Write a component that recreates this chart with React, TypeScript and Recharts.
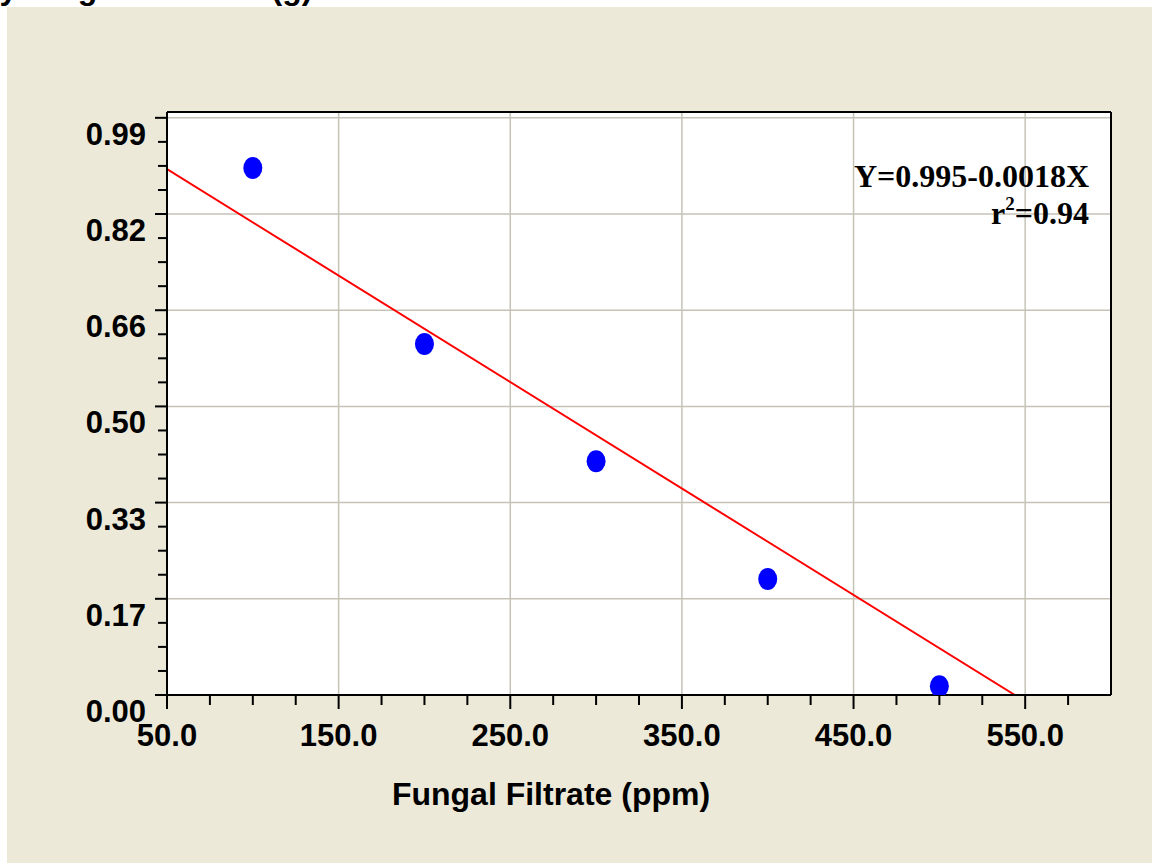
import React from 'react'
import {
  ComposedChart, XAxis, YAxis, CartesianGrid, Scatter, Line, ReferenceLine, Label,
} from 'recharts'

// measured points (fungal filtrate ppm vs dry weight g)
const filtrate = [100, 200, 300, 400, 500]
const dryWeight = [0.904, 0.602, 0.401, 0.199, 0.015]

// fitted line endpoints as drawn
const fitX = [50, 544]
const fitY = [0.902, 0]

const xMajorTicks = [50, 150, 250, 350, 450, 550]
const xMajorLabels = ['50.0', '150.0', '250.0', '350.0', '450.0', '550.0']
const xMinorTicks = [75, 100, 125, 175, 200, 225, 275, 300, 325, 375, 400, 425, 475, 500, 525, 575]

const yMajorTicks = [0, 0.165, 0.33, 0.495, 0.66, 0.825, 0.99]
const yMajorLabels = ['0.00', '0.17', '0.33', '0.50', '0.66', '0.82', '0.99']
const yMinorTicks = [
  0.04125, 0.0825, 0.12375, 0.20625, 0.2475, 0.28875, 0.37125, 0.4125, 0.45375,
  0.53625, 0.5775, 0.61875, 0.70125, 0.7425, 0.78375, 0.86625, 0.9075, 0.94875,
]

const points = filtrate.map((x, i) => ({ x, y: dryWeight[i] }))
const fitLine = fitX.map((x, i) => ({ x, y: fitY[i] }))

const SANS = '"Liberation Sans", Arial, sans-serif'
const SERIF = '"Liberation Serif", "Times New Roman", serif'
const BEIGE = '#ECE9D8'
const GRID = '#C6C3B6'

// eslint-disable-next-line @typescript-eslint/no-explicit-any
function XTick({ x, y, payload }: any) {
  const idx = xMajorTicks.indexOf(payload.value)
  const major = idx >= 0
  return (
    <g>
      <line x1={x} x2={x} y1={y} y2={y + (major ? 14 : 10)} stroke="#000" strokeWidth={2} />
      {major && (
        <text x={x} y={y + 51} textAnchor="middle" fontFamily={SANS} fontWeight="bold" fontSize={31} fill="#000">
          {xMajorLabels[idx]}
        </text>
      )}
    </g>
  )
}

// eslint-disable-next-line @typescript-eslint/no-explicit-any
function YTick({ x, y, payload }: any) {
  const idx = yMajorTicks.indexOf(payload.value)
  const major = idx >= 0
  return (
    <g>
      <line x1={x - (major ? 12 : 9)} x2={x} y1={y} y2={y} stroke="#000" strokeWidth={2} />
      {major && (
        <text x={x - 21} y={y + 27} textAnchor="end" fontFamily={SANS} fontWeight="bold" fontSize={31} fill="#000">
          {yMajorLabels[idx]}
        </text>
      )}
    </g>
  )
}

// eslint-disable-next-line @typescript-eslint/no-explicit-any
function Dot({ cx, cy }: any) {
  return <ellipse cx={cx} cy={cy} rx={9.5} ry={11} fill="#0000FF" />
}

export default function App() {
  return (
    <div style={{ position: 'absolute', left: 0, top: 0, width: 1152, height: 863, background: '#fff', overflow: 'hidden' }}>
      <div style={{ position: 'absolute', left: 7, top: 7, width: 1145, height: 856, background: BEIGE }} />
      <div style={{ position: 'absolute', left: 0, top: 0 }}>
        <ComposedChart width={1152} height={863} margin={{ top: 112, right: 41, bottom: 38, left: 107 }}>
          <CartesianGrid
            fill="#fff"
            stroke={GRID}
            strokeWidth={1.5}
            horizontalValues={yMajorTicks}
            verticalValues={xMajorTicks}
          />
          <XAxis
            type="number"
            dataKey="x"
            domain={[50, 600]}
            ticks={[...xMajorTicks, ...xMinorTicks].sort((a, b) => a - b)}
            interval={0}
            height={130}
            tickSize={0}
            tickMargin={0}
            tickLine={false}
            axisLine={{ stroke: '#000', strokeWidth: 2 }}
            tick={(p) => <XTick {...p} />}
            allowDataOverflow
          >
            <Label
              content={({ viewBox }: any) => (
                <text
                  x={viewBox.x + viewBox.width / 2 - 88}
                  y={viewBox.y + 110}
                  textAnchor="middle"
                  fontFamily={SANS}
                  fontWeight="bold"
                  fontSize={32}
                  fill="#000"
                >
                  Fungal Filtrate (ppm)
                </text>
              )}
            />
          </XAxis>
          <YAxis
            type="number"
            dataKey="y"
            domain={[0, 1]}
            ticks={[...yMajorTicks, ...yMinorTicks].sort((a, b) => a - b)}
            interval={0}
            width={60}
            tickSize={0}
            tickMargin={0}
            tickLine={false}
            axisLine={{ stroke: '#000', strokeWidth: 2 }}
            tick={(p) => <YTick {...p} />}
            allowDataOverflow
          />
          <ReferenceLine y={1} stroke="#000" strokeWidth={2} />
          <ReferenceLine x={600} stroke="#000" strokeWidth={2} />
          <Line
            data={fitLine}
            dataKey="y"
            stroke="#FF0000"
            strokeWidth={2}
            dot={false}
            activeDot={false}
            isAnimationActive={false}
          />
          <Scatter data={points} dataKey="y" shape={<Dot />} isAnimationActive={false} />
        </ComposedChart>
      </div>
      <svg width={1152} height={863} style={{ position: 'absolute', left: 0, top: 0, pointerEvents: 'none' }}>
        <text x={-36} y={-1} fontFamily={SANS} fontWeight="bold" fontSize={32} fill="#000">
          Dry weight of shoot (g)
        </text>
        <text x={1089} y={187} textAnchor="end" fontFamily={SERIF} fontWeight="bold" fontSize={32} fill="#000">
          Y=0.995-0.0018X
        </text>
        <text x={1089} y={224} textAnchor="end" fontFamily={SERIF} fontWeight="bold" fontSize={32} fill="#000">
          r<tspan dy={-14} fontSize={19}>2</tspan><tspan dy={14}>=0.94</tspan>
        </text>
      </svg>
    </div>
  )
}
